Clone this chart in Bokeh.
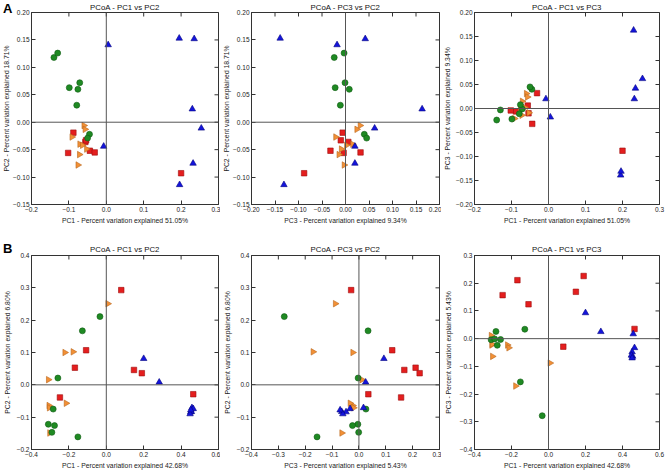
import math
from bokeh.plotting import figure
from bokeh.models import (Range1d, FixedTicker, Span, CustomJSTickFormatter,
                          ColumnDataSource, GridBox, Div)
from bokeh.embed import file_html
from bokeh.resources import INLINE

# ---------------- data: dataset A ----------------
A_RED_PC1 = [-0.088, -0.056, -0.054, -0.102, -0.044, -0.031, 0.200]
A_RED_PC2 = [-0.019, -0.036, -0.033, -0.056, -0.052, -0.055, -0.093]
A_RED_PC3 = [-0.006, 0.006, -0.010, -0.004, -0.032, 0.032, -0.088]
A_ORANGE_PC1 = [-0.060, -0.057, -0.092, -0.071, -0.064, -0.053, -0.072, -0.076]
A_ORANGE_PC2 = [-0.006, -0.013, -0.027, -0.040, -0.042, -0.049, -0.059, -0.078]
A_ORANGE_PC3 = [0.031, 0.024, -0.021, 0.015, 0.002, -0.009, -0.014, -0.003]
A_GREEN_PC1 = [-0.140, -0.130, -0.099, -0.071, -0.076, -0.079, -0.045, -0.050]
A_GREEN_PC2 = [0.118, 0.126, 0.063, 0.072, 0.060, 0.031, -0.022, -0.029]
A_GREEN_PC3 = [-0.024, -0.003, -0.022, -0.001, 0.008, -0.011, 0.040, 0.045]
A_BLUE_PC1 = [0.005, -0.007, 0.195, 0.235, 0.230, 0.254, 0.232, 0.196]
A_BLUE_PC2 = [0.141, -0.044, 0.153, 0.152, 0.024, -0.011, -0.075, -0.114]
A_BLUE_PC3 = [-0.018, 0.020, -0.139, 0.042, 0.163, 0.062, 0.020, -0.131]

# ---------------- data: dataset B ----------------
B_RED_PC1 = [0.080, -0.108, -0.168, 0.148, 0.190, -0.248, 0.465]
B_RED_PC2 = [0.293, 0.107, 0.053, 0.046, 0.036, -0.039, -0.029]
B_RED_PC3 = [-0.029, 0.124, 0.211, 0.169, 0.226, 0.157, 0.035]
B_ORANGE_PC1 = [0.008, -0.222, -0.178, -0.310, -0.307, -0.305, -0.215, -0.303]
B_ORANGE_PC2 = [0.251, 0.100, 0.102, 0.016, -0.064, -0.071, -0.057, -0.149]
B_ORANGE_PC3 = [-0.088, -0.023, -0.171, 0.011, -0.023, -0.020, -0.033, -0.064]
B_GREEN_PC1 = [-0.034, -0.128, -0.259, -0.284, -0.310, -0.277, -0.291, -0.152]
B_GREEN_PC2 = [0.211, 0.167, 0.021, -0.075, -0.122, -0.126, -0.147, -0.161]
B_GREEN_PC3 = [-0.278, 0.034, -0.003, 0.026, -0.004, -0.024, -0.001, -0.156]
B_BLUE_PC1 = [0.200, 0.283, 0.458, 0.465, 0.452, 0.455, 0.448, 0.452]
B_BLUE_PC2 = [0.081, 0.008, -0.071, -0.074, -0.084, -0.083, -0.090, -0.078]
B_BLUE_PC3 = [0.093, 0.025, 0.017, -0.033, -0.048, -0.064, -0.060, -0.070]

# ---------------- ticks ----------------
A_PC1_TICKS = [-0.2, -0.1, 0.0, 0.1, 0.2, 0.3]
A_PC1_LABELS = ["\u22120.2", "\u22120.1", "0.0", "0.1", "0.2", "0.3"]
A_PC2_TICKS = [-0.15, -0.10, -0.05, 0.00, 0.05, 0.10, 0.15, 0.20]
A_PC2_LABELS = ["\u22120.15", "\u22120.10", "\u22120.05", "0.00", "0.05", "0.10", "0.15", "0.20"]
A_PC3_TICKS = [-0.20, -0.15, -0.10, -0.05, 0.00, 0.05, 0.10, 0.15, 0.20]
A_PC3_LABELS = ["\u22120.20", "\u22120.15", "\u22120.10", "\u22120.05", "0.00", "0.05", "0.10", "0.15", "0.20"]
B_PC1_TICKS = [-0.4, -0.2, 0.0, 0.2, 0.4, 0.6]
B_PC1_LABELS = ["\u22120.4", "\u22120.2", "0.0", "0.2", "0.4", "0.6"]
B_PC2_TICKS = [-0.2, -0.1, 0.0, 0.1, 0.2, 0.3, 0.4]
B_PC2_LABELS = ["\u22120.2", "\u22120.1", "0.0", "0.1", "0.2", "0.3", "0.4"]
B_PC3X_TICKS = [-0.4, -0.3, -0.2, -0.1, 0.0, 0.1, 0.2, 0.3]
B_PC3X_LABELS = ["\u22120.4", "\u22120.3", "\u22120.2", "\u22120.1", "0.0", "0.1", "0.2", "0.3"]
B_PC3Y_TICKS = [-0.4, -0.3, -0.2, -0.1, 0.0, 0.1, 0.2, 0.3]
B_PC3Y_LABELS = ["\u22120.4", "\u22120.3", "\u22120.2", "\u22120.1", "0.0", "0.1", "0.2", "0.3"]

A_LABEL_PC1 = "PC1 - Percent variation explained 51.05%"
A_LABEL_PC2 = "PC2 - Percent variation explained 18.71%"
A_LABEL_PC3 = "PC3 - Percent variation explained 9.34%"
B_LABEL_PC1 = "PC1 - Percent variation explained 42.68%"
B_LABEL_PC2 = "PC2 - Percent variation explained 6.80%"
B_LABEL_PC3 = "PC3 - Percent variation explained 5.43%"

A = {
    "red": {"PC1": A_RED_PC1, "PC2": A_RED_PC2, "PC3": A_RED_PC3},
    "orange": {"PC1": A_ORANGE_PC1, "PC2": A_ORANGE_PC2, "PC3": A_ORANGE_PC3},
    "green": {"PC1": A_GREEN_PC1, "PC2": A_GREEN_PC2, "PC3": A_GREEN_PC3},
    "blue": {"PC1": A_BLUE_PC1, "PC2": A_BLUE_PC2, "PC3": A_BLUE_PC3},
}
B = {
    "red": {"PC1": B_RED_PC1, "PC2": B_RED_PC2, "PC3": B_RED_PC3},
    "orange": {"PC1": B_ORANGE_PC1, "PC2": B_ORANGE_PC2, "PC3": B_ORANGE_PC3},
    "green": {"PC1": B_GREEN_PC1, "PC2": B_GREEN_PC2, "PC3": B_GREEN_PC3},
    "blue": {"PC1": B_BLUE_PC1, "PC2": B_BLUE_PC2, "PC3": B_BLUE_PC3},
}

# ---------------- styles ----------------
STYLE = {
    "red": dict(marker="square", size=5.5, fill_color="#e41e1e", line_color="#9e0d0d", angle=0.0),
    "orange": dict(marker="triangle", size=6.5, fill_color="#f29036", line_color="#b8661c", angle=-math.pi / 2),
    "green": dict(marker="circle", size=6, fill_color="#1f8a23", line_color="#0f5a12", angle=0.0),
    "blue": dict(marker="triangle", size=6.5, fill_color="#1414dc", line_color="#050580", angle=0.0),
}
FONT = "Liberation Sans"
TICK_FS = "6.5px"
AXLAB_FS = "6.8px"
TITLE_FS = "7.8px"
EDGE = "#333333"

# layout geometry (pixels)
COL_W = [220, 221, 228]
COL_BL = [31, 31, 33]
COL_BR = [2, 2, 10]
ROW_H = [240, 231]
ROW_BT = [12, 15]
ROW_BB = [36, 22]
TITLE_STANDOFF = [1, 3]
YLAB_STANDOFF = [[0, 0, 2], [3, 3, 5]]


def tick_formatter(tick_values, tick_labels):
    return CustomJSTickFormatter(
        args=dict(tv=tick_values, lv=tick_labels),
        code="""
        let idx = 0, best = 1e9;
        for (let k = 0; k < tv.length; k++) {
            const d = Math.abs(tv[k] - tick);
            if (d < best) { best = d; idx = k; }
        }
        return lv[idx];
        """)


def panel(ds, xk, yk, xt, xl, yt, yl, title, xlab, ylab, c, r):
    p = figure(width=COL_W[c], height=ROW_H[r],
               x_range=Range1d(xt[0], xt[-1]), y_range=Range1d(yt[0], yt[-1]),
               output_backend="svg", toolbar_location=None,
               min_border_left=COL_BL[c], min_border_right=COL_BR[c],
               min_border_top=ROW_BT[r], min_border_bottom=ROW_BB[r])
    p.grid.visible = False
    p.outline_line_color = EDGE
    p.outline_line_width = 1
    p.background_fill_color = "white"
    p.border_fill_color = "white"

    p.title.text = title
    p.title.align = "center"
    p.title.text_font = FONT
    p.title.text_font_size = TITLE_FS
    p.title.text_font_style = "normal"
    p.title.text_color = "#111111"
    p.title.standoff = TITLE_STANDOFF[r]

    for ax, ticks, labels in ((p.xaxis[0], xt, xl), (p.yaxis[0], yt, yl)):
        ax.ticker = FixedTicker(ticks=ticks)
        ax.formatter = tick_formatter(ticks, labels)
        ax.major_tick_in = 4
        ax.major_tick_out = 0
        ax.minor_tick_line_color = None
        ax.axis_line_color = EDGE
        ax.major_tick_line_color = EDGE
        ax.major_label_text_font = FONT
        ax.major_label_text_font_size = TICK_FS
        ax.major_label_text_color = "#222222"
        ax.axis_label_text_font = FONT
        ax.axis_label_text_font_size = AXLAB_FS
        ax.axis_label_text_font_style = "normal"
        ax.axis_label_text_color = "#222222"
    p.xaxis[0].major_label_standoff = 2
    p.xaxis[0].axis_label = xlab
    p.xaxis[0].axis_label_standoff = 2
    p.yaxis[0].major_label_standoff = 2
    p.yaxis[0].axis_label = ylab
    p.yaxis[0].axis_label_standoff = YLAB_STANDOFF[r][c]

    # inward tick marks on the top and right edges (half of each dash is clipped by the frame)
    p.scatter(x=xt, y=[yt[-1]] * len(xt), marker="dash", size=8, angle=math.pi / 2,
              line_color=EDGE, line_width=1)
    p.scatter(x=[xt[-1]] * len(yt), y=yt, marker="dash", size=8,
              line_color=EDGE, line_width=1)

    p.add_layout(Span(location=0, dimension="width", line_color="#555555", line_width=1))
    p.add_layout(Span(location=0, dimension="height", line_color="#555555", line_width=1))

    for g in ("red", "orange", "green", "blue"):
        st = STYLE[g]
        src = ColumnDataSource(dict(x=ds[g][xk], y=ds[g][yk]))
        p.scatter("x", "y", source=src, marker=st["marker"], size=st["size"],
                  fill_color=st["fill_color"], line_color=st["line_color"],
                  line_width=0.6, angle=st["angle"])
    return p


p1 = panel(A, "PC1", "PC2", A_PC1_TICKS, A_PC1_LABELS, A_PC2_TICKS, A_PC2_LABELS,
           "PCoA - PC1 vs PC2", A_LABEL_PC1, A_LABEL_PC2, 0, 0)
p2 = panel(A, "PC3", "PC2", A_PC3_TICKS, A_PC3_LABELS, A_PC2_TICKS, A_PC2_LABELS,
           "PCoA - PC3 vs PC2", A_LABEL_PC3, A_LABEL_PC2, 1, 0)
p3 = panel(A, "PC1", "PC3", A_PC1_TICKS, A_PC1_LABELS, A_PC3_TICKS, A_PC3_LABELS,
           "PCoA - PC1 vs PC3", A_LABEL_PC1, A_LABEL_PC3, 2, 0)
p4 = panel(B, "PC1", "PC2", B_PC1_TICKS, B_PC1_LABELS, B_PC2_TICKS, B_PC2_LABELS,
           "PCoA - PC1 vs PC2", B_LABEL_PC1, B_LABEL_PC2, 0, 1)
p5 = panel(B, "PC3", "PC2", B_PC3X_TICKS, B_PC3X_LABELS, B_PC2_TICKS, B_PC2_LABELS,
           "PCoA - PC3 vs PC2", B_LABEL_PC3, B_LABEL_PC2, 1, 1)
p6 = panel(B, "PC1", "PC3", B_PC1_TICKS, B_PC1_LABELS, B_PC3Y_TICKS, B_PC3Y_LABELS,
           "PCoA - PC1 vs PC3", B_LABEL_PC1, B_LABEL_PC3, 2, 1)

LETTER_STYLE = {"font-family": "Liberation Sans", "font-size": "13px", "font-weight": "bold",
                "color": "black", "padding": "0px", "line-height": "13px",
                "transform": "translate(-2px, -3px)"}
divA = Div(text="A", width=16, height=16, styles=LETTER_STYLE)
divB = Div(text="B", width=16, height=16, styles=LETTER_STYLE)

layout = GridBox(children=[(p1, 0, 0), (p2, 0, 1), (p3, 0, 2),
                           (p4, 1, 0), (p5, 1, 1), (p6, 1, 2),
                           (divA, 0, 0), (divB, 1, 0)], spacing=0)

open("out.html", "w").write(file_html(layout, INLINE))
